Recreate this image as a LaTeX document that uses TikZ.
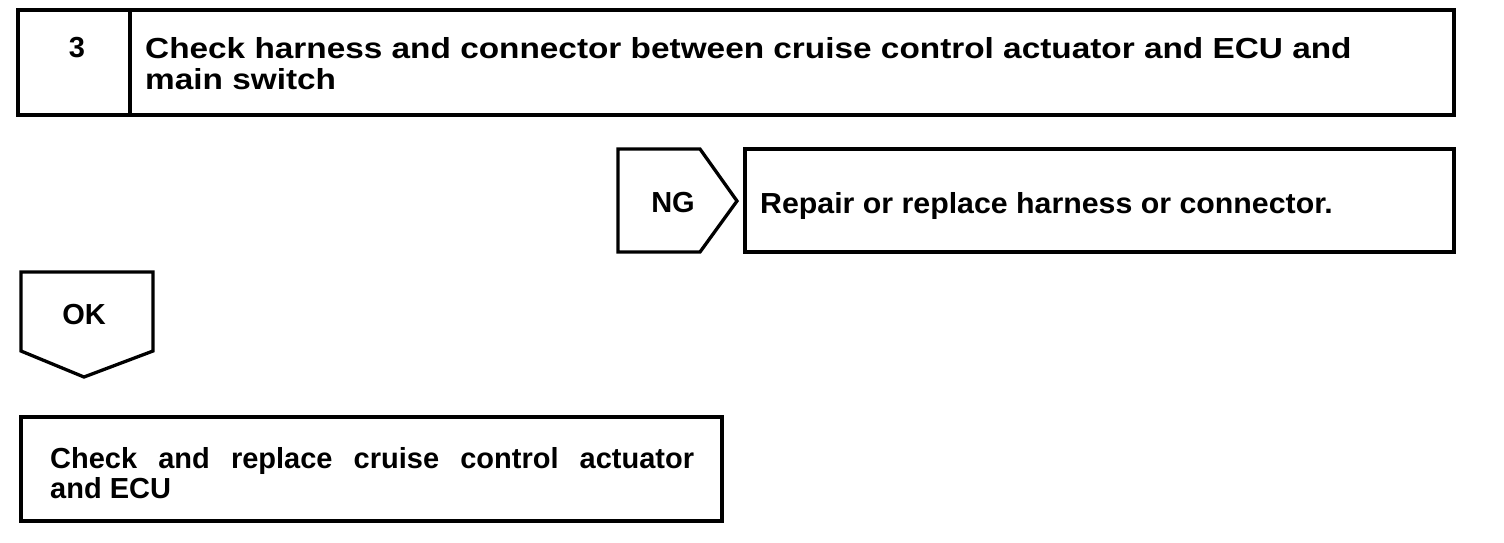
\documentclass[tikz,border=0pt]{standalone}
\usepackage{fontspec}
\setmainfont{Liberation Sans}
\newfontfamily\widefont[FakeStretch=1.15]{Liberation Sans}
\newfontfamily\midfont[FakeStretch=1.045]{Liberation Sans}
\begin{document}
\begin{tikzpicture}[x=1pt,y=-1pt,
  frame/.style={draw=black,line width=3.3pt,line join=miter},
  txt/.style={inner sep=0pt,font=\bfseries\fontsize{29}{30.5}\selectfont},
  lbl/.style={txt,anchor=base}]
\useasboundingbox (0,0) rectangle (1504,542);
% top box
\draw[frame] (18,10) rectangle (1454,115);
\draw[frame] (130,10) -- (130,115);
\node[lbl] (num) at (77,57) {3};
\node[txt,font=\widefont\bfseries\fontsize{29}{30.5}\selectfont,anchor=base west,align=left] (title) at (145,89)
  {Check harness and connector between cruise control actuator and ECU and\\main switch};
% NG
\draw[frame] (618,149) -- (700,149) -- (737,201) -- (700,252) -- (618,252) -- cycle;
\node[lbl] (ng) at (673,212) {NG};
\draw[frame] (745,149) rectangle (1454,252);
\node[txt,font=\midfont\bfseries\fontsize{29}{30.5}\selectfont,anchor=base west] (repair) at (760,213) {Repair or replace harness or connector.};
% OK
\draw[frame] (21,272) -- (153,272) -- (153,351) -- (84,377) -- (21,351) -- cycle;
\node[lbl] (ok) at (84,324) {OK};
\draw[frame] (21,417) rectangle (722,521);
\node[txt,anchor=base west,text width=644pt,align=justify] (check) at (50,468)
  {Check and replace cruise control actuator\linebreak and ECU};
\end{tikzpicture}
\end{document}
